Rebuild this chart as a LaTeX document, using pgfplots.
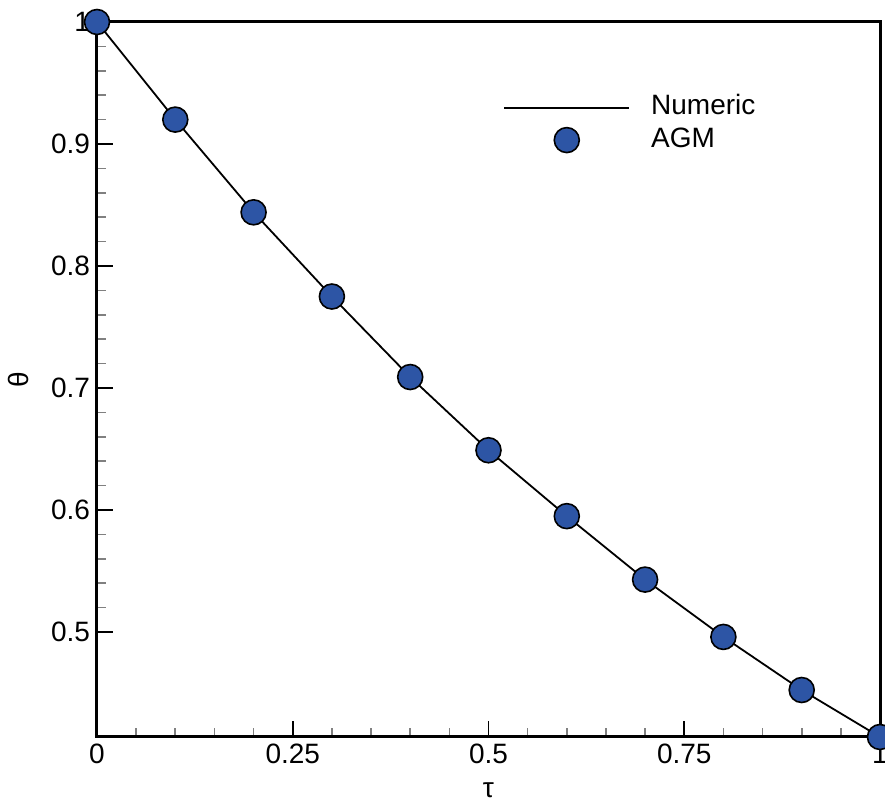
\documentclass[border=0pt]{standalone}
\usepackage{fontspec}
\setmainfont{Liberation Sans}
\usepackage{pgfplots}
\pgfplotsset{compat=1.18}
\definecolor{agmblue}{RGB}{45,85,165}
\pgfplotsset{
    numlegend/.style={legend image code/.code={%
        \path[use as bounding box, draw opacity=0, fill opacity=0] (0pt,-6.5pt) rectangle (62.5pt,6.5pt);
        \draw[##1] (0pt,0pt) -- (62.5pt,0pt);}},
    agmlegend/.style={legend image code/.code={%
        \path[use as bounding box, draw opacity=0, fill opacity=0] (0pt,-6.5pt) rectangle (62.5pt,6.5pt);
        \draw[##1] plot coordinates {(31.25pt,0pt)};}},
}

\begin{document}
\begin{tikzpicture}
\begin{axis}[
    scale only axis,
    width=391.5pt, height=357.5pt,
    xmin=0, xmax=1,
    ymin=0.414, ymax=1,
    xtick={0,0.25,0.5,0.75,1},
    ytick={0.5,0.6,0.7,0.8,0.9,1},
    minor x tick num=4,
    minor y tick num=4,
    tick pos=left,
    tick align=inside,
    major tick length=8pt,
    minor tick length=4.5pt,
    every major tick/.style={black, line width=0.8pt},
    every minor tick/.style={gray, line width=0.8pt},
    axis line style={line width=1.5pt},
    font=\fontsize{14}{16}\selectfont,
    /pgf/number format/assume math mode=true,
    xlabel={τ}, ylabel={θ},
    every axis x label/.style={at={(axis description cs:0.5,-0.074)}, anchor=center},
    every axis y label/.style={at={(axis description cs:-0.1,0.5)}, anchor=center, rotate=90},
    clip=false,
    legend cell align=left,
    legend style={
        at={(axis description cs:0.5185,0.90)}, anchor=north west,
        draw=none, fill=none, inner sep=0pt,
        nodes={inner sep=0pt, text height=10pt, text depth=3pt},
        column sep=10.5pt, row sep=2.5pt,
    },
]
% Numeric solution
\addplot[black, line width=0.9pt, numlegend]
  coordinates {
    (0,1.000) (0.1,0.920) (0.2,0.844) (0.3,0.775) (0.4,0.709) (0.5,0.649)
    (0.6,0.595) (0.7,0.543) (0.8,0.496) (0.9,0.4525) (1.0,0.414)
  };
\addlegendentry{Numeric}
% AGM points
\addplot[only marks, mark=*, mark size=6.25pt,
    mark options={fill=agmblue, draw=black, line width=0.8pt}, agmlegend]
  coordinates {
    (0,1.000) (0.1,0.920) (0.2,0.844) (0.3,0.775) (0.4,0.709) (0.5,0.649)
    (0.6,0.595) (0.7,0.543) (0.8,0.496) (0.9,0.4525) (1.0,0.414)
  };
\addlegendentry{AGM}
\coordinate (bl) at (rel axis cs:0,0);
\coordinate (tr) at (rel axis cs:1,1);
\end{axis}
\pgfresetboundingbox
\path[use as bounding box] ([shift={(-48.5pt,-31.5pt)}]bl) rectangle ([shift={(2.5pt,11pt)}]tr);
\end{tikzpicture}
\end{document}
